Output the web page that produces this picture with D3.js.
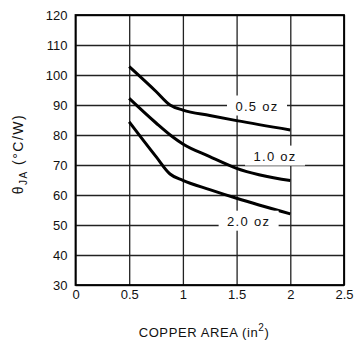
<!DOCTYPE html>
<html>
<head>
<meta charset="utf-8">
<script src="https://cdn.jsdelivr.net/npm/d3@7"></script>
<style>
body { margin: 0; background: #fff; }
text { font-family: "Liberation Sans", Arial, sans-serif; fill: #111; }
</style>
</head>
<body>
<div id="chart"></div>
<script>
var w = 355;
var h = 343;

// copper area (in^2)
var area05 = [0.5, 0.75, 0.88, 1.0, 1.25, 1.5, 2.0];
var theta05 = [102.8, 94.5, 90.0, 88.3, 86.5, 84.8, 81.7];
var area10 = [0.5, 0.75, 0.9, 1.0, 1.25, 1.5, 2.0];
var theta10 = [92.2, 84.0, 79.5, 77.0, 72.8, 68.9, 64.8];
var area20 = [0.5, 0.75, 0.88, 1.0, 1.25, 1.5, 2.0];
var theta20 = [84.4, 72.8, 67.0, 64.9, 61.8, 58.9, 53.7];

var seriesNames = ["0.5 oz", "1.0 oz", "2.0 oz"];
var labelX = [1.69, 1.858, 1.612];
var labelY = [89.5, 72.8, 51.1];

var xTicks = [0, 0.5, 1, 1.5, 2, 2.5];
var yTicks = [30, 40, 50, 60, 70, 80, 90, 100, 110, 120];

var padL = 75.5, padR = 344, padT = 15, padB = 285;

var svg = d3.select("#chart")
	.append("svg")
	.attr("width", w)
	.attr("height", h);

var xScale = d3.scaleLinear()
	.domain([0, 2.5])
	.range([padL, padR]);

var yScale = d3.scaleLinear()
	.domain([30, 120])
	.range([padB, padT]);

// grid
svg.append("g")
	.attr("class", "gridX")
	.attr("transform", "translate(0," + padB + ")")
	.call(d3.axisBottom(xScale).tickValues(xTicks).tickSize(-(padB - padT)).tickFormat(""))
	.call(function(g) { g.select(".domain").remove(); });

svg.append("g")
	.attr("class", "gridY")
	.attr("transform", "translate(" + padL + ",0)")
	.call(d3.axisLeft(yScale).tickValues(yTicks).tickSize(-(padR - padL)).tickFormat(""))
	.call(function(g) { g.select(".domain").remove(); });

svg.selectAll(".gridX line, .gridY line")
	.attr("stroke", "#222")
	.attr("stroke-width", 1.3);

// frame
svg.append("rect")
	.attr("x", padL)
	.attr("y", padT)
	.attr("width", padR - padL)
	.attr("height", padB - padT)
	.attr("fill", "none")
	.attr("stroke", "#000")
	.attr("stroke-width", 1.8);

// tick labels
svg.append("g")
	.attr("class", "axisX")
	.attr("transform", "translate(0," + padB + ")")
	.call(d3.axisBottom(xScale).tickValues(xTicks).tickSize(0).tickPadding(5).tickFormat(d3.format("")))
	.call(function(g) { g.select(".domain").remove(); });

svg.append("g")
	.attr("class", "axisY")
	.attr("transform", "translate(" + padL + ",0)")
	.call(d3.axisLeft(yScale).tickValues(yTicks).tickSize(0).tickPadding(8))
	.call(function(g) { g.select(".domain").remove(); });

svg.selectAll(".axisX text, .axisY text")
	.style("font-size", "13px")
	.style("font-family", "'Liberation Sans', Arial, sans-serif")
	.attr("fill", "#111");

// curves
var line = d3.line()
	.x(function(d) { return xScale(d[0]); })
	.y(function(d) { return yScale(d[1]); })
	.curve(d3.curveMonotoneX);

var series = [d3.zip(area05, theta05), d3.zip(area10, theta10), d3.zip(area20, theta20)];

svg.selectAll(".curve")
	.data(series)
	.enter()
	.append("path")
	.attr("class", "curve")
	.attr("d", line)
	.attr("fill", "none")
	.attr("stroke", "#000")
	.attr("stroke-width", 3);

// curve labels with white boxes
seriesNames.forEach(function(name, i) {
	var cx = xScale(labelX[i]);
	var cy = yScale(labelY[i]);
	svg.append("rect")
		.attr("x", cx - 30)
		.attr("y", cy - 11)
		.attr("width", 60)
		.attr("height", 20)
		.attr("fill", "#fff");
	svg.append("text")
		.attr("x", cx)
		.attr("y", cy)
		.attr("dy", "0.35em")
		.attr("text-anchor", "middle")
		.style("font-size", "13px")
		.style("letter-spacing", "1.3px")
		.text(name);
});

// axis titles
var xt = svg.append("text")
	.attr("x", 204)
	.attr("y", 337)
	.attr("text-anchor", "middle")
	.style("font-size", "13px")
	.style("letter-spacing", "0.6px");
xt.append("tspan").text("COPPER AREA (in");
xt.append("tspan").attr("dy", -6).style("font-size", "10px").text("2");
xt.append("tspan").attr("dy", 6).text(")");

var yt = svg.append("text")
	.attr("transform", "translate(23,154) rotate(-90)")
	.attr("text-anchor", "middle")
	.style("font-size", "14px")
	.style("letter-spacing", "1.5px");
yt.append("tspan").text("θ");
yt.append("tspan").attr("dy", 4).style("font-size", "10px").text("JA");
yt.append("tspan").attr("dy", -4).text(" (°C/W)");
</script>
</body>
</html>
